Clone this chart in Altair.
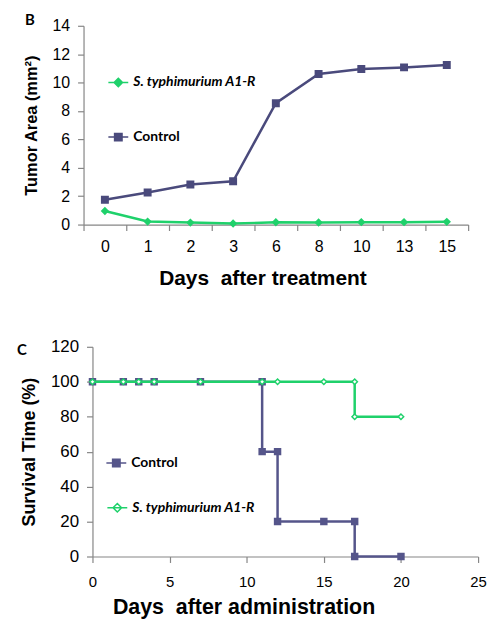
import altair as alt
import pandas as pd

# ---------------- data ----------------
top_days = ["0", "1", "2", "3", "6", "8", "10", "13", "15"]
top_control = [1.75, 2.26, 2.82, 3.05, 8.55, 10.6, 10.95, 11.07, 11.24]
top_st = [0.96, 0.21, 0.14, 0.07, 0.16, 0.15, 0.17, 0.17, 0.19]

bot_control_days = [0, 2, 3, 4, 7, 11, 11, 12, 12, 15, 17, 17, 20]
bot_control_surv = [100, 100, 100, 100, 100, 100, 60, 60, 20, 20, 20, 0, 0]
bot_st_days = [0, 2, 3, 4, 7, 11, 12, 15, 17, 17, 20]
bot_st_surv = [100, 100, 100, 100, 100, 100, 100, 100, 100, 80, 80]

CONTROL = "Control"
ST = "S. typhimurium A1-R"

NAVY = "#4A4A7C"
NAVY2 = "#55558A"
GREEN = "#1FD16B"
AXC = "#868686"

SQ_PATH = "M-2,0H2M-0.75,-0.75H0.75V0.75H-0.75Z"
DI_PATH = "M-2,0H2M0,-0.85L0.85,0L0,0.85L-0.85,0Z"


def legend(x, y, italic):
    return alt.Legend(
        title=None, orient="none", legendX=x, legendY=y,
        symbolSize=100, symbolOpacity=1,
        labelFont="Lato", labelFontSize=14, labelFontWeight="bold",
        labelFontStyle="italic" if italic else "normal",
        labelColor="black", labelOffset=8, padding=0,
    )


def legend_layer(df, x, y, fill, stroke, path, lx, ly, italic, sw=2):
    # zero-size marks: only their legend entry is visible
    return alt.Chart(df).mark_point(filled=True, size=0, fill=fill, stroke=stroke,
                                    strokeWidth=sw).encode(
        x=x, y=y,
        shape=alt.Shape("series:N", scale=alt.Scale(range=[path]),
                        legend=legend(lx, ly, italic)),
    )


# ---------------- panel B ----------------
tc = pd.DataFrame({"day": top_days, "area": top_control, "series": CONTROL})
ts = pd.DataFrame({"day": top_days, "area": top_st, "series": ST})

x_top = alt.X(
    "day:O", sort=top_days, bandPosition=0.5,
    scale=alt.Scale(type="band", paddingInner=0, paddingOuter=0),
    axis=alt.Axis(title="Days\u00a0 after treatment", labelAngle=0, tickBand="extent",
                  labelFontSize=16, labelPadding=8, tickSize=6,
                  titleFontSize=21, titlePadding=13, titleX=180),
)
y_top = alt.Y(
    "area:Q", scale=alt.Scale(domain=[0, 14]),
    axis=alt.Axis(title="Tumor Area (mm²)", values=list(range(0, 15, 2)),
                  labelFontSize=16, labelPadding=8, tickSize=6,
                  titleFontSize=16.5, titlePadding=13),
)

top = alt.layer(
    alt.Chart(tc).mark_line(color=NAVY, strokeWidth=2.5).encode(x=x_top, y=y_top),
    alt.Chart(tc).mark_point(shape="square", filled=True, size=36, fill=NAVY, stroke=NAVY,
                             strokeWidth=2, opacity=1).encode(x=x_top, y=y_top),
    alt.Chart(ts).mark_line(color=GREEN, strokeWidth=2.5).encode(x=x_top, y=y_top),
    alt.Chart(ts).mark_point(shape="diamond", filled=True, size=40, fill=GREEN, stroke=GREEN,
                             strokeWidth=1.5, opacity=1).encode(x=x_top, y=y_top),
    legend_layer(tc, x_top, y_top, NAVY, NAVY, SQ_PATH, 28, 105, False),
    legend_layer(ts, x_top, y_top, GREEN, GREEN, DI_PATH, 28, 50, True),
).resolve_scale(shape="independent").properties(
    width=387, height=200,
    title=alt.TitleParams("B", anchor="start", frame="group", dx=-59, dy=10, offset=0,
                          font="Lato", fontSize=15, fontWeight="bold"),
)

# ---------------- panel C ----------------
bc = pd.DataFrame({"day": bot_control_days, "surv": bot_control_surv, "series": CONTROL,
                   "i": range(len(bot_control_days))})
bs = pd.DataFrame({"day": bot_st_days, "surv": bot_st_surv, "series": ST,
                   "i": range(len(bot_st_days))})

x_bot = alt.X(
    "day:Q", scale=alt.Scale(domain=[0, 25], nice=False, range=[9, 397]),
    axis=alt.Axis(title="Days\u00a0 after administration", values=list(range(0, 26, 5)),
                  labelFlush=False,
                  labelFontSize=15, labelPadding=12, tickSize=6,
                  titleFontSize=21.5, titlePadding=7, titleX=161),
)
y_bot = alt.Y(
    "surv:Q", scale=alt.Scale(domain=[0, 120], nice=False),
    axis=alt.Axis(title="Survival Time (%)", values=list(range(0, 121, 20)), offset=-9,
                  labelFontSize=17, labelPadding=8, tickSize=6,
                  titleFontSize=18, titlePadding=12),
)

bottom = alt.layer(
    alt.Chart(bc).mark_line(color=NAVY2, strokeWidth=2.5).encode(x=x_bot, y=y_bot, order="i:Q"),
    alt.Chart(bc).mark_point(shape="square", filled=True, size=30, fill=NAVY2, stroke=NAVY2,
                             strokeWidth=2, opacity=1).encode(x=x_bot, y=y_bot),
    alt.Chart(bs).mark_line(color=GREEN, strokeWidth=2.5).encode(x=x_bot, y=y_bot, order="i:Q"),
    alt.Chart(bs).mark_point(shape="diamond", filled=True, size=30, fill="white", stroke=GREEN,
                             strokeWidth=1.5, opacity=1).encode(x=x_bot, y=y_bot),
    legend_layer(bc, x_bot, y_bot, NAVY2, NAVY2, SQ_PATH, 26, 110, False),
    legend_layer(bs, x_bot, y_bot, "white", GREEN, DI_PATH, 27, 155, True, sw=1.5),
).resolve_scale(shape="independent").properties(
    width=397, height=211,
    title=alt.TitleParams("C", anchor="start", frame="group", dx=-67, dy=20, offset=0,
                          font="Lato", fontSize=15, fontWeight="bold"),
)

chart = alt.concat(top, bottom, columns=1, spacing=50).properties(
    bounds="full",
    padding={"left": 9, "top": 3, "right": 5, "bottom": 2},
).configure_view(stroke=None).configure_axis(
    grid=False, domainColor=AXC, tickColor=AXC, domainWidth=1.2, tickWidth=1.2,
    labelFont="Liberation Sans", titleFont="Liberation Sans", titleFontWeight="bold",
    labelColor="black", titleColor="black",
)

chart.save("out.html", embed_options={"renderer": "svg", "actions": False})
